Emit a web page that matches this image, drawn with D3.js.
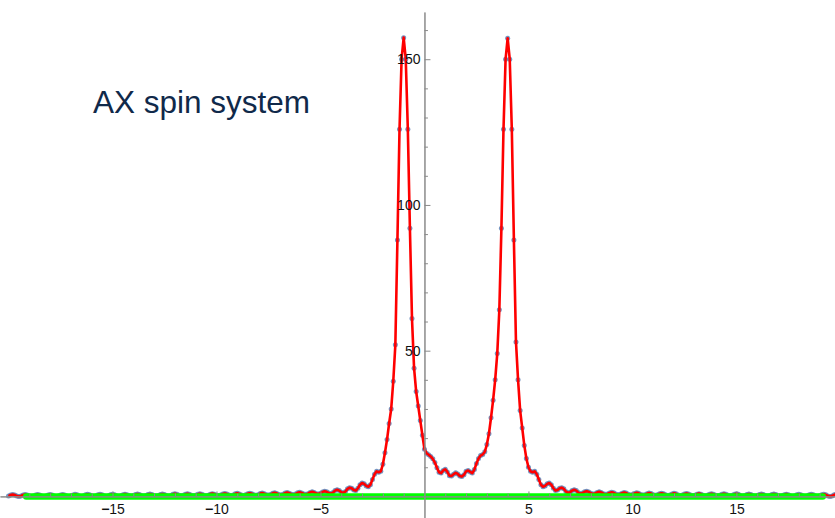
<!DOCTYPE html>
<html>
<head>
<meta charset="utf-8">
<script src="https://cdn.jsdelivr.net/npm/d3@7"></script>
<style>
  body { margin: 0; background: #fff; }
  svg { display: block; font-family: "Liberation Sans", Arial, sans-serif; }
</style>
</head>
<body>
<div id="chart-container"></div>
<script>
let width = 835,
    height = 518;

let title = "AX spin system";

// samples every 0.1 along the shift axis, starting at -20
let shiftStart = -20,
    shiftStep = 0.1;

// x = -20.0 .. -2.1
let tailLeft = [
    0.12, 0.47, 0.64, 0.47, 0.12, -0.05, 0.13, 0.48, 0.65, 0.48,
    0.13, -0.04, 0.14, 0.49, 0.66, 0.49, 0.14, -0.03, 0.15, 0.5,
    0.68, 0.5, 0.15, -0.02, 0.16, 0.51, 0.69, 0.52, 0.17, 0.0, 0.17,
    0.52, 0.7, 0.53, 0.18, 0.0, 0.18, 0.54, 0.72, 0.55, 0.2,
    0.02, 0.2, 0.56, 0.74, 0.57, 0.22, 0.05, 0.23, 0.58, 0.76,
    0.58, 0.25, 0.08, 0.25, 0.6, 0.78, 0.6, 0.27, 0.1, 0.28,
    0.62, 0.8, 0.63, 0.3, 0.13, 0.3, 0.65, 0.82, 0.65, 0.32,
    0.15, 0.32, 0.67, 0.85, 0.68, 0.34, 0.18, 0.35, 0.7, 0.87,
    0.7, 0.36, 0.2, 0.38, 0.72, 0.9, 0.73, 0.37, 0.22, 0.4,
    0.75, 0.92, 0.75, 0.39, 0.25, 0.43, 0.78, 0.95, 0.78, 0.41,
    0.28, 0.46, 0.82, 1.0, 0.82, 0.44, 0.3, 0.49, 0.87, 1.05,
    0.86, 0.49, 0.35, 0.54, 0.91, 1.1, 0.9, 0.54, 0.4, 0.59,
    0.96, 1.15, 0.94, 0.58, 0.45, 0.65, 1.05, 1.25, 1.02, 0.64,
    0.5, 0.71, 1.14, 1.35, 1.1, 0.73, 0.6, 0.81, 1.24, 1.45,
    1.2, 0.84, 0.7, 0.93, 1.38, 1.6, 1.35, 0.95, 0.8, 1.05,
    1.55, 1.8, 1.6, 1.15, 0.95, 1.3, 2.0, 2.3, 2.0, 1.4,
    1.2, 1.7, 2.6, 3.0, 2.8, 2.2, 2.0, 2.8, 4.0, 4.6,
    4.3, 3.6, 3.3, 4.0, 5.8, 7.6, 8.6, 8.3, 8.6
];

// x = -2.0 .. 4.9 (both peaks)
let core = [
    11, 15, 19.5, 25, 30, 39.5, 52, 88, 126, 150,
    157.4, 150, 126, 92, 61, 44, 36, 31, 26, 21,
    16.2, 14.8, 14.3, 13.7, 12.9, 11.6, 9.8, 8.3, 8.0, 8.9,
    9.3, 8.4, 7.1, 7.0, 7.6, 8.1, 7.7, 7.0, 6.8, 7.4,
    8.6, 8.9, 8.4, 8.0, 9.2, 11.3, 13.0, 14.0, 14.4, 15.3,
    17.8, 21.5, 27, 33, 40, 49, 64, 92, 126, 150,
    157.2, 150, 126, 88, 53, 40, 29.5, 23.5, 17.5, 13
];

// x = 5.0 .. 20.0
let tailRight = [
    10.0, 8.6, 8.3, 8.6, 7.6, 5.8, 4.0, 3.3, 3.6, 4.3,
    4.6, 4.0, 2.8, 2.0, 2.2, 2.8, 3.0, 2.6, 1.7, 1.2,
    1.4, 2.0, 2.3, 2.0, 1.3, 0.95, 1.15, 1.6, 1.8, 1.55,
    1.05, 0.8, 0.95, 1.35, 1.6, 1.38, 0.93, 0.7, 0.84, 1.2,
    1.45, 1.24, 0.81, 0.6, 0.73, 1.1, 1.35, 1.14, 0.71, 0.5,
    0.64, 1.02, 1.25, 1.05, 0.65, 0.45, 0.58, 0.94, 1.15, 0.96,
    0.59, 0.4, 0.54, 0.9, 1.1, 0.91, 0.54, 0.35, 0.49, 0.86,
    1.05, 0.87, 0.49, 0.3, 0.44, 0.82, 1.0, 0.82, 0.46, 0.28,
    0.41, 0.78, 0.95, 0.78, 0.43, 0.25, 0.39, 0.75, 0.92, 0.75,
    0.4, 0.22, 0.37, 0.73, 0.9, 0.72, 0.38, 0.2, 0.36, 0.7,
    0.87, 0.7, 0.35, 0.18, 0.34, 0.68, 0.85, 0.67, 0.32, 0.15,
    0.32, 0.65, 0.82, 0.65, 0.3, 0.13, 0.3, 0.63, 0.8, 0.62,
    0.28, 0.1, 0.27, 0.6, 0.78, 0.6, 0.25, 0.08, 0.25, 0.58,
    0.76, 0.58, 0.23, 0.05, 0.22, 0.57, 0.74, 0.56, 0.2, 0.02,
    0.2, 0.55, 0.72, 0.54, 0.18, 0.0, 0.18, 0.53, 0.7, 0.52,
    0.17
];

let baselineRange = [-19.15, 19.15];
let xMajorTicks = [-15, -10, -5, 5, 10, 15];
let yMajorTicks = [50, 100, 150];

let intensity = tailLeft.concat(core, tailRight);
let points = intensity.map((v, i) => ({ shift: shiftStart + i * shiftStep, value: v }));

let svg = d3.select("#chart-container")
    .append("svg")
    .attr("width", width)
    .attr("height", height);

let x = d3.scaleLinear()
    .domain([-20.41, 19.74])
    .range([0, width]);

let y = d3.scaleLinear()
    .domain([-7.41, 166.2])
    .range([518, 12]);

// sample points under the curve
svg.append("g")
    .selectAll("circle")
    .data(points)
    .enter()
    .append("circle")
    .attr("cx", d => x(d.shift))
    .attr("cy", d => y(d.value))
    .attr("r", 2.5)
    .style("fill", "#5E81B5")
    .style("opacity", 0.85);

let line = d3.line()
    .x(d => x(d.shift))
    .y(d => y(d.value));

svg.append("path")
    .datum(points)
    .attr("d", line)
    .style("fill", "none")
    .style("stroke", "#ff0000")
    .style("stroke-width", 2.6)
    .style("stroke-linejoin", "round");

// green baseline
svg.append("line")
    .attr("x1", x(baselineRange[0]))
    .attr("x2", x(baselineRange[1]))
    .attr("y1", y(0))
    .attr("y2", y(0))
    .style("stroke", "#00ff00")
    .style("stroke-width", 6.5)
    .style("stroke-linecap", "round");

// x axis, ticks pointing up
let xMinor = d3.range(-20, 20).filter(v => v % 5 !== 0);
svg.append("g")
    .attr("class", "xminor axis")
    .attr("transform", "translate(0," + y(0) + ")")
    .call(d3.axisBottom(x).tickValues(xMinor).tickSize(-3).tickSizeOuter(0).tickFormat(""));
svg.append("g")
    .attr("class", "xmajor axis")
    .attr("transform", "translate(0," + y(0) + ")")
    .call(d3.axisBottom(x).tickValues(xMajorTicks).tickSize(-5).tickSizeOuter(0).tickPadding(8));

// y axis, ticks pointing right
let yMinor = d3.range(10, 170, 10).filter(v => v % 50 !== 0);
svg.append("g")
    .attr("class", "yminor axis")
    .attr("transform", "translate(" + x(0) + ",0)")
    .call(d3.axisLeft(y).tickValues(yMinor).tickSize(-3.5).tickSizeOuter(0).tickFormat(""));
svg.append("g")
    .attr("class", "ymajor axis")
    .attr("transform", "translate(" + x(0) + ",0)")
    .call(d3.axisLeft(y).tickValues(yMajorTicks).tickSize(-6).tickSizeOuter(0).tickPadding(4));

svg.selectAll(".axis path, .axis line")
    .style("stroke", "#8a8a8a")
    .style("stroke-width", 1);
svg.selectAll(".axis text")
    .style("font-family", "'Liberation Sans', Arial, sans-serif")
    .style("font-size", "14px")
    .style("fill", "#111");

// heavier minus sign like the original
svg.selectAll(".xmajor .tick text")
    .filter(d => d < 0)
    .each(function(d) {
        let t = d3.select(this);
        t.text(null);
        t.append("tspan").style("font-weight", "bold").text("\u2212");
        t.append("tspan").text(Math.abs(d));
    });

svg.append("text")
    .attr("x", 93)
    .attr("y", 113)
    .style("font-size", "31.5px")
    .style("fill", "#10294a")
    .text(title);
</script>
</body>
</html>
